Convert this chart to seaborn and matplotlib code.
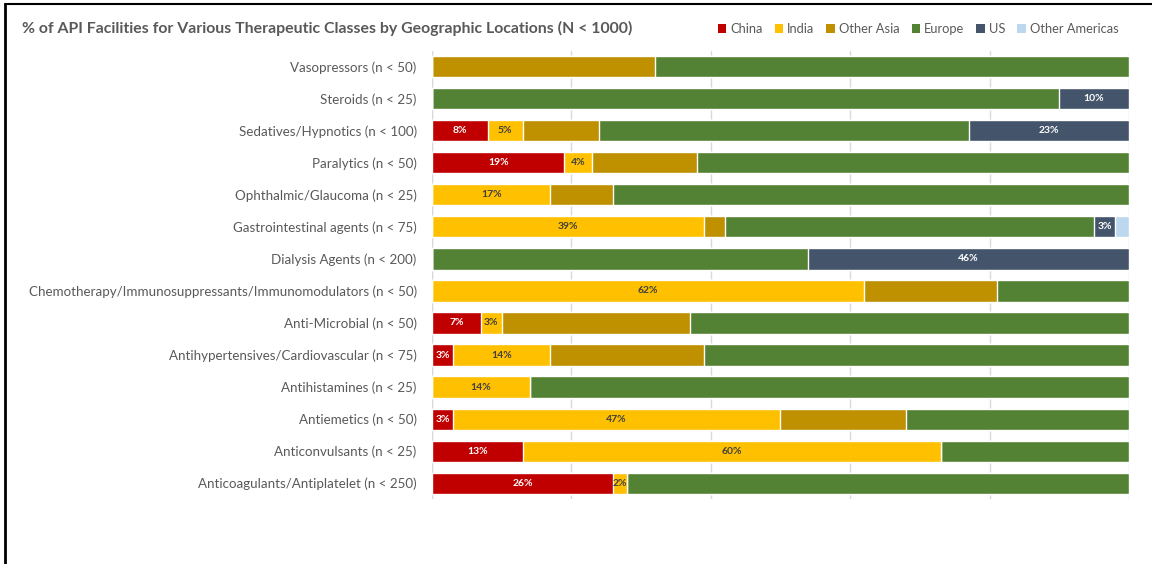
import matplotlib
matplotlib.use("Agg")
import matplotlib.pyplot as plt
from matplotlib.lines import Line2D
from matplotlib.patches import Rectangle
import seaborn as sns
import numpy as np
import pandas as pd

categories = [
    "Vasopressors (n < 50)",
    "Steroids (n < 25)",
    "Sedatives/Hypnotics (n < 100)",
    "Paralytics (n < 50)",
    "Ophthalmic/Glaucoma (n < 25)",
    "Gastrointestinal agents (n < 75)",
    "Dialysis Agents (n < 200)",
    "Chemotherapy/Immunosuppressants/Immunomodulators (n < 50)",
    "Anti-Microbial (n < 50)",
    "Antihypertensives/Cardiovascular (n < 75)",
    "Antihistamines (n < 25)",
    "Antiemetics (n < 50)",
    "Anticonvulsants (n < 25)",
    "Anticoagulants/Antiplatelet (n < 250)",
]

regions = ["China", "India", "Other Asia", "Europe", "US", "Other Americas"]

china = [0, 0, 8, 19, 0, 0, 0, 0, 7, 3, 0, 3, 13, 26]
india = [0, 0, 5, 4, 17, 39, 0, 62, 3, 14, 14, 47, 60, 2]
other_asia = [32, 0, 11, 15, 9, 3, 0, 19, 27, 22, 0, 18, 0, 0]
europe = [68, 90, 53, 62, 74, 53, 54, 19, 63, 61, 86, 32, 27, 72]
us = [0, 10, 23, 0, 0, 3, 46, 0, 0, 0, 0, 0, 0, 0]
other_americas = [0, 0, 0, 0, 0, 2, 0, 0, 0, 0, 0, 0, 0, 0]

colors = ["#C00000", "#FFC000", "#BF9000", "#548235", "#44546A", "#BDD7EE"]
label_colors = {"China": "white", "India": "#404040", "US": "white"}

series = [china, india, other_asia, europe, us, other_americas]
df = pd.DataFrame(dict(zip(regions, series)), index=categories)
cum = df.cumsum(axis=1)

sns.set_theme(style="white")
plt.rcParams["font.family"] = ["Lato", "DejaVu Sans"]

fig = plt.figure(figsize=(11.52, 5.64), dpi=100)
ax = fig.add_axes([0.375, 0.115, 0.605, 0.795])

# stacked bars: draw cumulative totals from the last series back to the first
for name, col in reversed(list(zip(regions, colors))):
    sns.barplot(x=cum[name].values, y=categories, color=col, orient="h",
                width=0.66, ax=ax, saturation=1, zorder=2)

# value labels on the China, India and US segments
for name in regions:
    if name not in label_colors:
        continue
    for i, v in enumerate(df[name].values):
        if v <= 0:
            continue
        center = cum[name].values[i] - v / 2
        ax.text(center, i, f"{v}%", ha="center", va="center",
                fontsize=7.5, fontweight="bold", color=label_colors[name], zorder=3)

ax.set_xlim(0, 100)
ax.set_ylim(len(categories) - 0.5, -0.5)
ax.set_xticks(np.arange(0, 101, 20))
ax.set_xticklabels([])
ax.tick_params(axis="x", length=0)
ax.tick_params(axis="y", length=0, pad=11, labelsize=9.6, labelcolor="#595959")
ax.grid(axis="x", color="#D9D9D9", linewidth=1, zorder=0)
ax.set_axisbelow(True)
for s in ax.spines.values():
    s.set_visible(False)
ax.axvline(0, color="#D9D9D9", linewidth=1, zorder=1)
ax.set_xlabel("")
ax.set_ylabel("")

fig.text(0.019, 0.949, "% of API Facilities for Various Therapeutic Classes by Geographic Locations (N < 1000)",
         fontsize=11.4, fontweight="bold", color="#595959", va="center", ha="left")

handles = [Rectangle((0, 0), 1, 1, facecolor=c, edgecolor="none") for c in colors]
fig.legend(handles, regions, loc="center right", bbox_to_anchor=(0.981, 0.949),
           ncol=6, frameon=False, fontsize=9.3, handlelength=0.65, handleheight=0.65,
           handletextpad=0.3, columnspacing=0.95, labelcolor="#595959")

# frame lines along the top and left edges
fig.add_artist(Line2D([0.0045, 1.0], [0.993, 0.993], color="black", linewidth=1.5,
                      transform=fig.transFigure))
fig.add_artist(Line2D([0.0045, 0.0045], [0.0, 0.993], color="black", linewidth=2,
                      transform=fig.transFigure))

fig.savefig("out.png", dpi=100)
